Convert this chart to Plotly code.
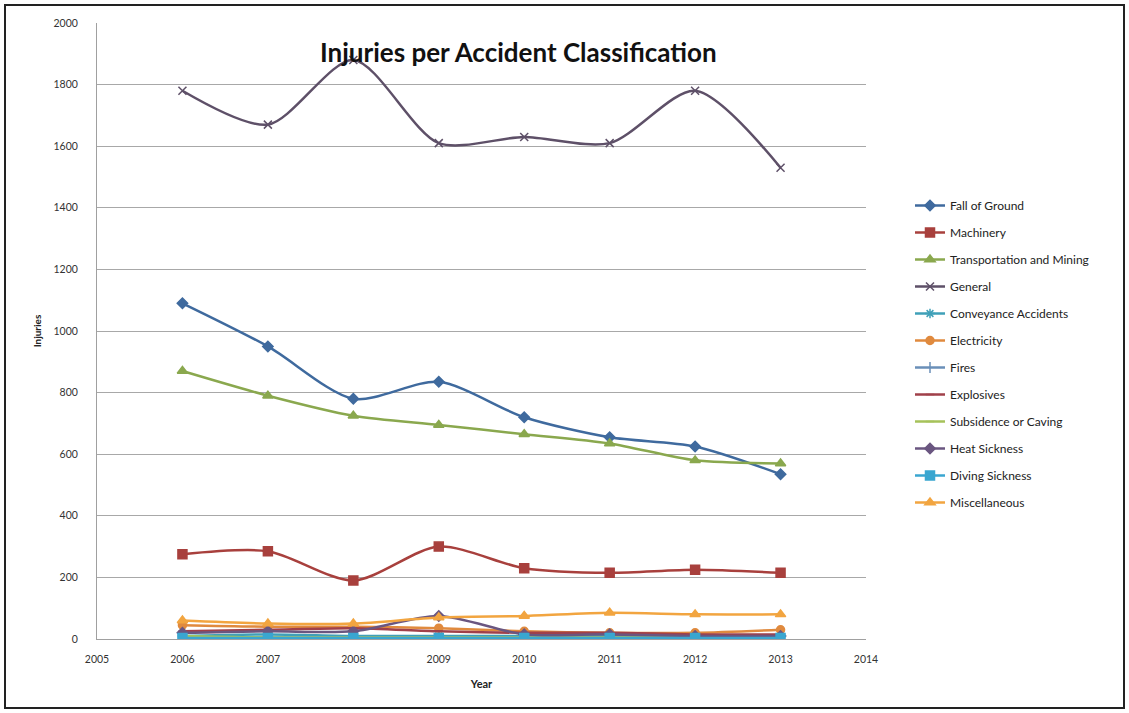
import plotly.graph_objects as go

years = [2006, 2007, 2008, 2009, 2010, 2011, 2012, 2013]

fall_of_ground = [1090, 950, 780, 835, 720, 655, 625, 535]
machinery = [275, 285, 190, 300, 230, 215, 225, 215]
transportation = [870, 790, 725, 695, 665, 635, 580, 570]
general = [1780, 1670, 1880, 1610, 1630, 1610, 1780, 1530]
conveyance = [10, 15, 10, 10, 10, 10, 10, 10]
electricity = [45, 40, 40, 35, 25, 20, 20, 30]
fires = [5, 5, 5, 5, 5, 5, 5, 5]
explosives = [25, 30, 35, 25, 20, 20, 15, 15]
subsidence = [10, 5, 5, 5, 5, 5, 5, 5]
heat_sickness = [20, 25, 25, 75, 15, 15, 10, 10]
diving_sickness = [3, 3, 3, 3, 3, 3, 3, 3]
miscellaneous = [60, 50, 50, 70, 75, 85, 80, 80]

series = [
    ("Fall of Ground", fall_of_ground, "#3F6A9E", "diamond", 8),
    ("Machinery", machinery, "#A8403D", "square", 9),
    ("Transportation and Mining", transportation, "#8AA84E", "triangle-up", 9),
    ("General", general, "#5E5068", "x-thin", 8),
    ("Conveyance Accidents", conveyance, "#3FA0B8", "asterisk", 8),
    ("Electricity", electricity, "#E08A3E", "circle", 8),
    ("Fires", fires, "#6A8FB8", "line-ns", 8),
    ("Explosives", explosives, "#A0404A", "line-ew", 6),
    ("Subsidence or Caving", subsidence, "#A6C25A", "line-ew", 6),
    ("Heat Sickness", heat_sickness, "#6A5680", "diamond", 8),
    ("Diving Sickness", diving_sickness, "#3AA6D0", "square", 9),
    ("Miscellaneous", miscellaneous, "#F2A540", "triangle-up", 9),
]

fig = go.Figure()
for name, vals, color, sym, size in series:
    fig.add_trace(go.Scatter(
        x=years, y=vals, name=name, mode="lines+markers",
        legendgroup=name,
        line=dict(color=color, width=2.5, shape="spline", smoothing=0.8),
        marker=dict(symbol=sym, size=size, color=color,
                    line=dict(color=color, width=1.5)),
    ))

L, R, T, B = 97, 263, 23, 74
pw = 1129 - L - R
ph = 713 - T - B

fig.update_layout(
    width=1129, height=713,
    margin=dict(l=L, r=R, t=T, b=B),
    paper_bgcolor="white", plot_bgcolor="white",
    font=dict(family="Lato, Open Sans, sans-serif", size=10, color="#333333"),
    showlegend=True,
    legend=dict(x=(910 - L) / pw, y=(639 - 191) / ph, xanchor="left", yanchor="top",
                font=dict(size=12, color="#222222"), tracegroupgap=8,
                bgcolor="rgba(0,0,0,0)", itemwidth=30),
    xaxis=dict(range=[2005, 2014], dtick=1, tick0=2005, showgrid=False,
               showline=True, linecolor="#A0A0A0", linewidth=1,
               ticks="", tickfont=dict(size=10.5, color="#333333"),
               ticklabelstandoff=10,
               title=dict(text="<b>Year</b>", font=dict(size=11, color="#222222"), standoff=16),
               zeroline=False),
    yaxis=dict(range=[0, 2000], dtick=200, showgrid=True, gridcolor="#A8A8A8", gridwidth=1,
               showline=True, linecolor="#A0A0A0", linewidth=1,
               ticks="", tickfont=dict(size=10.5, color="#333333"),
               ticklabelstandoff=16,
               title=dict(text="<b>Injuries</b>", font=dict(size=10, color="#222222"), standoff=10),
               zeroline=False),
    annotations=[dict(text="<b>Injuries per Accident Classification</b>",
                      x=(518 - L) / pw, y=(639 - 52) / ph, xref="paper", yref="paper",
                      showarrow=False, font=dict(size=26, color="#111111"),
                      xanchor="center", yanchor="middle")],
    shapes=[dict(type="rect", xref="paper", yref="paper",
                 x0=(5 - L) / pw, x1=(1124 - L) / pw,
                 y0=(639 - 708) / ph, y1=(639 - 5) / ph,
                 line=dict(color="#222222", width=2), fillcolor="rgba(0,0,0,0)")],
)

fig.write_html("out.html", config={"displayModeBar": False},
               post_script="document.body.style.margin='0';")
